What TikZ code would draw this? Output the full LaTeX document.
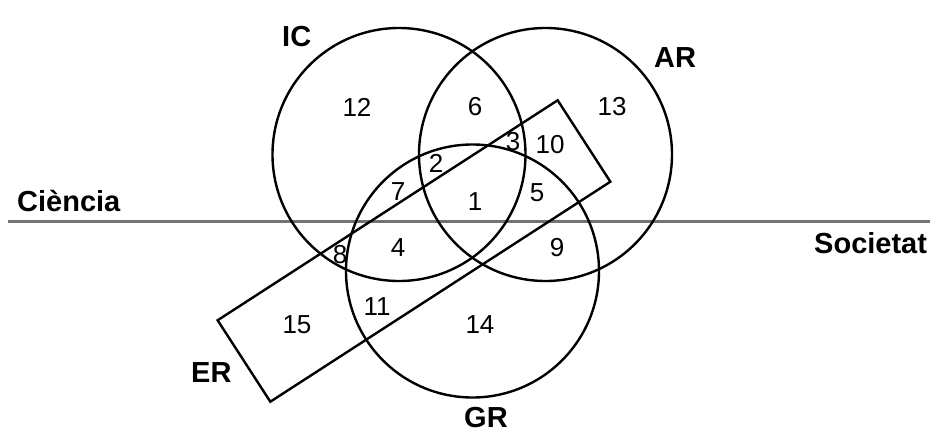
\documentclass[tikz,border=0pt]{standalone}
\usepackage{fontspec}
\setmainfont{Liberation Sans}
\usepackage{tikz}
\usetikzlibrary{positioning}
\tikzset{
  venn/.style={draw, circle, line width=2.4pt, minimum size=253pt, inner sep=0pt, outer sep=0pt},
  zone/.style={draw, rectangle, line width=2.4pt, minimum width=405pt, minimum height=97pt, inner sep=0pt, outer sep=0pt},
  lbl/.style={font=\fontsize{29}{32}\selectfont\bfseries, inner sep=0pt, anchor=base west},
  num/.style={font=\fontsize{26}{29}\selectfont, inner sep=0pt},
  axis/.style={draw=black!55, line width=2.6pt}
}
\begin{document}
\begin{tikzpicture}[x=1pt, y=-1pt]
\useasboundingbox (0,0) rectangle (930,436);
% the axis between the two fields
\coordinate (axL) at (8,221.5);
\coordinate (axR) at (930,221.5);
\draw[axis] (axL) -- (axR);
\node[lbl] (cie) at (17,211) {Ciència};
\node[lbl] (soc) at (814,253) {Societat};
% the three circles and the band
\node[venn] (ic) at (399,154.5) {};
\node[venn] (ar) at (545.5,154.5) {};
\node[venn] (gr) at (472.5,271) {};
\node[zone, rotate=32.9] (er) at (414,251) {};
\node[lbl] (icL) at (282,47) {IC};
\node[lbl] (arL) at (654,68) {AR};
\node[lbl] (grL) at (464,427) {GR};
\node[lbl] (erL) at (191,382) {ER};
% region numbers
\node[num] (r1) at (475,202) {1};
\node[num] (r2) at (436,163) {2};
\node[num] (r3) at (513,142) {3};
\node[num] (r4) at (398,248) {4};
\node[num] (r5) at (537,193) {5};
\node[num] (r6) at (475,107) {6};
\node[num] (r7) at (398,192) {7};
\node[num] (r8) at (340,255) {8};
\node[num] (r9) at (557,248) {9};
\node[num] (r10) at (550,145) {10};
\node[num] (r11) at (377,307) {11};
\node[num] (r12) at (357,107) {12};
\node[num] (r13) at (612,107) {13};
\node[num] (r14) at (480,325) {14};
\node[num] (r15) at (297,325) {15};
\end{tikzpicture}
\end{document}
